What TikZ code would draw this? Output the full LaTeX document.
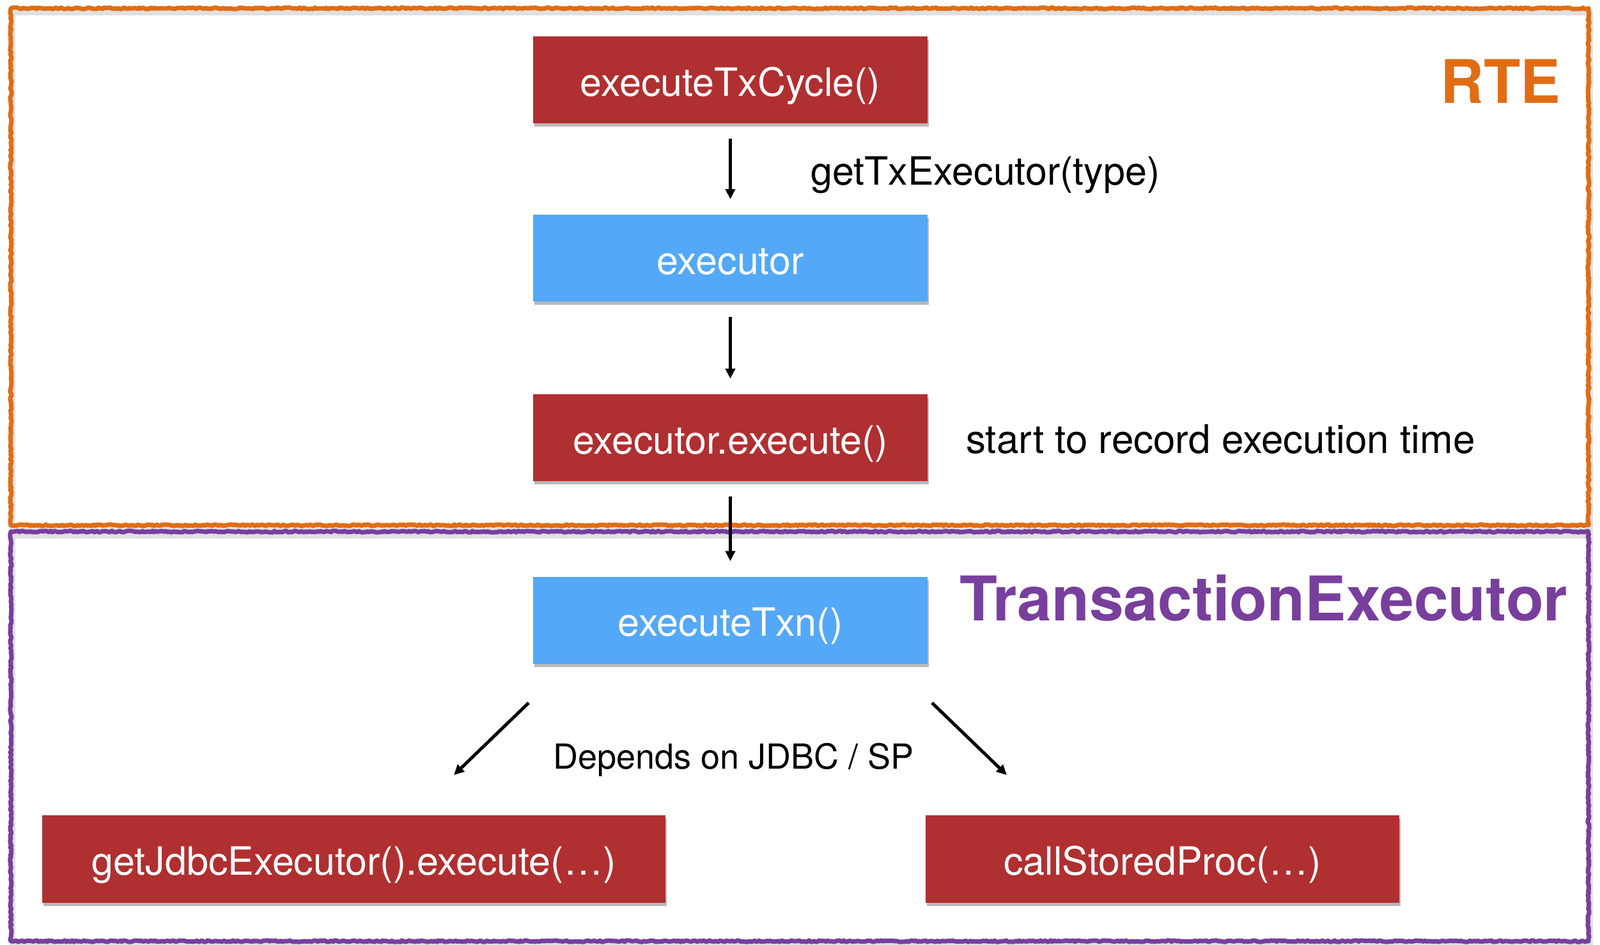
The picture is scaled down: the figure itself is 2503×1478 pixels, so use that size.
\documentclass[tikz,border=0pt]{standalone}
\usepackage{fontspec}
\setmainfont{TeX Gyre Heros}
\usetikzlibrary{shadows,arrows.meta,decorations.pathmorphing}
\definecolor{boxred}{HTML}{B02F30}
\definecolor{boxblue}{HTML}{53A8F7}
\definecolor{rteorange}{HTML}{E06D14}
\definecolor{txpurple}{HTML}{783F9D}
\begin{document}
\begin{tikzpicture}[x=1pt,y=-1pt,
  boxbase/.style={minimum width=617pt, minimum height=136pt, inner sep=0pt,
    text=white, font=\fontsize{61}{73}\selectfont, text height=50pt, text depth=0pt,
    drop shadow={shadow xshift=2pt, shadow yshift=-5pt, opacity=0.28, fill=black}},
  redbox/.style={boxbase, fill=boxred},
  bluebox/.style={boxbase, fill=boxblue},
  arr/.style={-{Triangle[length=16pt,width=15pt]}, line width=5pt,
    shorten <=24pt, shorten >=24pt},
  darr/.style={-{Triangle[length=16pt,width=15pt]}, line width=5pt},
  lbl/.style={inner sep=0pt, font=\fontsize{61}{73}\selectfont},
  frameline/.style={line width=7pt, line join=round,
    decorate, decoration={random steps, segment length=3pt, amplitude=1.2pt}},
  frameshadow/.style={line width=9pt, black, opacity=0.12}
]
\useasboundingbox (0,0) rectangle (2503,1478);
\fill[white] (0,0) rectangle (2503,1478);

% frames
\draw[frameshadow] (19,19) rectangle (2487,828);
\draw[frameshadow] (19,838) rectangle (2487,1479);
\draw[frameline, rteorange] (17,13) rectangle (2485,822);
\draw[frameline, txpurple] (17,832) rectangle (2485,1473);

% boxes
\node[redbox]  (cycle)   at (1142.5,125)   {executeTxCycle()};
\node[bluebox] (exec)    at (1142.5,404)   {executor};
\node[redbox]  (execute) at (1142.5,685)   {executor.execute()};
\node[bluebox] (txn)     at (1142.5,970.5) {executeTxn()};
\node[redbox, minimum width=975pt, minimum height=137pt] (jdbc) at (553.5,1344) {getJdbcExecutor().execute(…)};
\node[redbox, minimum width=741pt, minimum height=137pt] (sp)   at (1818.5,1344) {callStoredProc(…)};

% labels
\node[lbl, anchor=base west] (gettx) at (1268,289) {getTxExecutor(type)};
\node[lbl, anchor=base west, font=\fontsize{62}{74}\selectfont] (rec) at (1511,709) {start to record execution time};
\node[lbl, anchor=base west, font=\fontsize{54}{65}\selectfont] (dep) at (865,1203.5) {Depends on JDBC / SP};
\node[inner sep=0pt, anchor=base west, text=rteorange, font=\fontsize{94}{112}\selectfont\bfseries] (rte) at (2253,161) {RTE};
\node[inner sep=0pt, anchor=base west, text=txpurple, font=\fontsize{96.5}{114}\selectfont\bfseries] (te) at (1501,971.5) {TransactionExecutor};

% arrows
\draw[arr] (cycle.south) -- (exec.north);
\draw[arr] (exec.south) -- (execute.north);
\draw[arr] (execute.south) -- (txn.north);

\coordinate (ls) at (827,1100);
\coordinate (le) at (710,1213);
\coordinate (rs) at (1458,1100);
\coordinate (re) at (1575,1213);
\draw[darr] (ls) -- (le);
\draw[darr] (rs) -- (re);
\end{tikzpicture}
\end{document}
